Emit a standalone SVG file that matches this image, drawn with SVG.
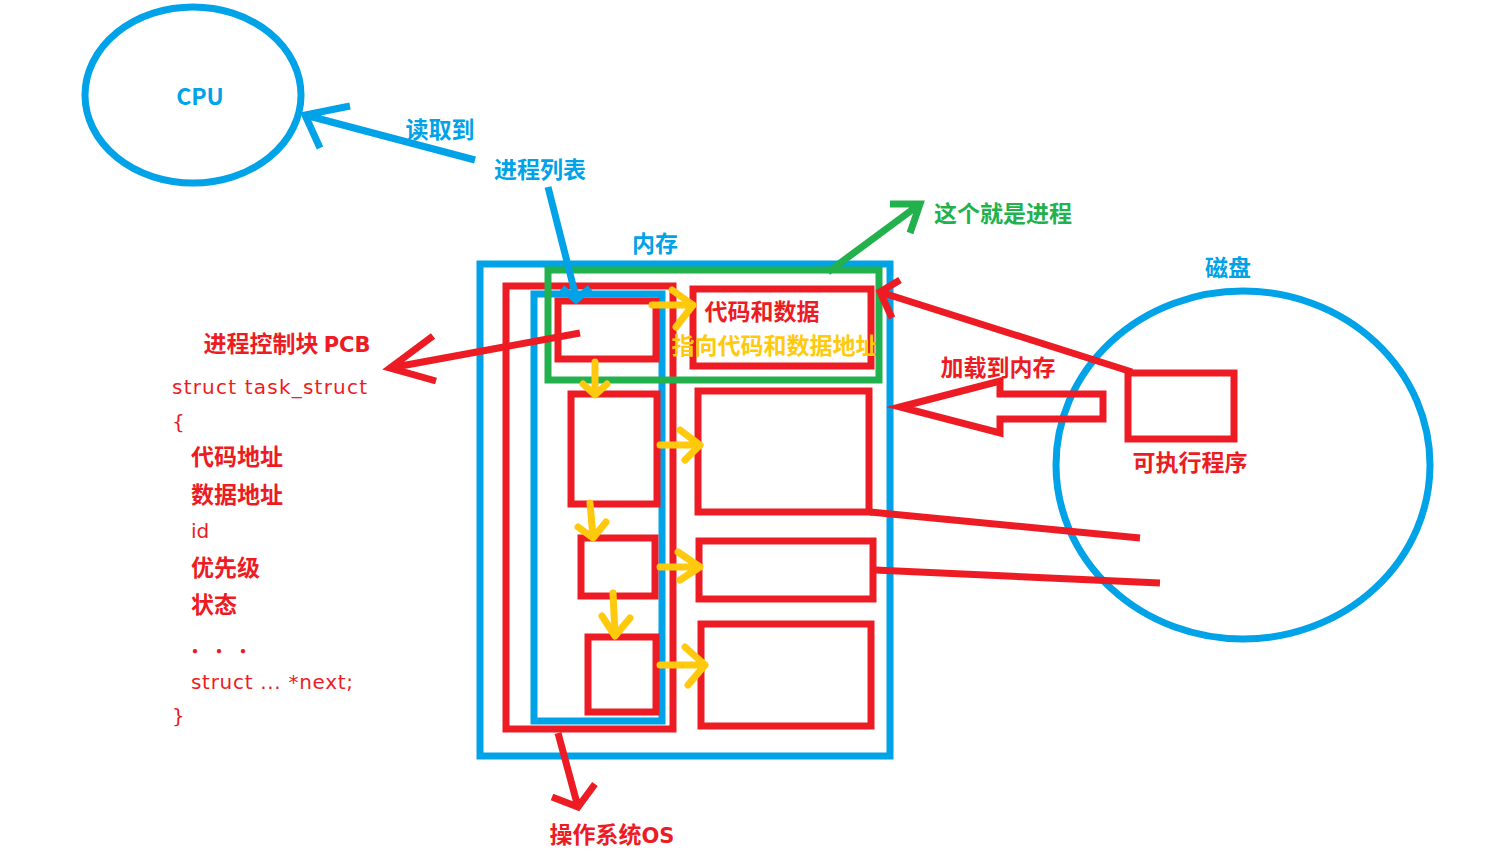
<svg xmlns="http://www.w3.org/2000/svg" width="1497" height="856" viewBox="0 0 1497 856">
<style>
.b{fill:none;stroke:#00A2E8;stroke-width:7}
.r{fill:none;stroke:#ED1C24;stroke-width:7}
.g{fill:none;stroke:#22B14C;stroke-width:7}
.y{fill:none;stroke:#FFC90E;stroke-width:7;stroke-linecap:round;stroke-linejoin:round}
.t{font-family:"Noto Sans CJK SC","Liberation Sans",sans-serif;font-size:23px;font-weight:bold}
.c{font-family:"DejaVu Sans","Noto Sans CJK SC",sans-serif;font-size:20px}
.tb{fill:#00A2E8}.tr{fill:#ED1C24}.tg{fill:#22B14C}.ty{fill:#FFC90E}
</style>
<rect width="1497" height="856" fill="#fff"/>
<g id="cpu"><ellipse class="b" cx="193" cy="95" rx="108" ry="88"/><text class="t tb" x="200" y="105" text-anchor="middle" font-family="DejaVu Sans" font-size="20">CPU</text></g>
<g id="memory"><rect class="b" x="480" y="264" width="410" height="492"/><text class="t tb" x="655" y="252" text-anchor="middle">内存</text></g>
<g id="os"><rect class="r" x="506" y="286" width="167" height="443"/><text class="t tr" x="612" y="843" text-anchor="middle">操作系统<tspan font-family="DejaVu Sans" font-size="21">OS</tspan></text></g>
<g id="proclist"><rect class="b" x="534" y="294" width="128" height="427"/></g>
<g id="pcb1"><rect class="r" x="558" y="301" width="98" height="58"/></g>
<g id="pcb2"><rect class="r" x="571" y="394" width="86" height="110"/></g>
<g id="pcb3"><rect class="r" x="581" y="538" width="74" height="58"/></g>
<g id="pcb4"><rect class="r" x="588" y="637" width="68" height="75"/></g>
<g id="data1"><rect class="r" x="693" y="289" width="178" height="77"/><text class="t tr" x="762" y="320" text-anchor="middle">代码和数据</text><text class="t ty" x="775" y="354" text-anchor="middle">指向代码和数据地址</text></g>
<g id="data2"><rect class="r" x="698" y="391" width="171" height="121"/></g>
<g id="data3"><rect class="r" x="699" y="541" width="174" height="58"/></g>
<g id="data4"><rect class="r" x="701" y="624" width="170" height="102"/></g>
<g id="process"><rect class="g" x="548" y="270" width="331" height="110"/><text class="t tg" x="1003" y="222" text-anchor="middle">这个就是进程</text></g>
<g id="disk"><ellipse class="b" cx="1243" cy="465" rx="187" ry="174"/><text class="t tb" x="1228" y="276" text-anchor="middle">磁盘</text></g>
<g id="exe"><rect class="r" x="1128" y="373" width="106" height="66"/><text class="t tr" x="1190" y="471" text-anchor="middle">可执行程序</text></g>
<g id="pcbtext">
<text class="t tr" x="287" y="352" text-anchor="middle">进程控制块 <tspan font-family="DejaVu Sans" font-size="21">PCB</tspan></text>
<text class="c tr" x="172" y="394" textLength="195">struct task_struct</text>
<text class="c tr" x="172" y="429">{</text>
<text class="t tr" x="191" y="465">代码地址</text>
<text class="t tr" x="191" y="503">数据地址</text>
<text class="c tr" x="191" y="538">id</text>
<text class="t tr" x="191" y="576">优先级</text>
<text class="t tr" x="191" y="613">状态</text>
<text class="c tr" x="185" y="659" font-family="Noto Sans CJK SC" letter-spacing="4">・・・</text>
<text class="c tr" x="191" y="689" textLength="162">struct ... *next;</text>
<text class="c tr" x="172" y="723">}</text>
</g>
<g id="labels">
<text class="t tb" x="440" y="138" text-anchor="middle">读取到</text>
<text class="t tb" x="540" y="178" text-anchor="middle">进程列表</text>
<text class="t tr" x="998" y="376" text-anchor="middle">加载到内存</text>
</g>
<g id="connectors">
<path class="b" d="M475 160 L305 115 M350 106 L305 115 L320 148" stroke-width="6"/>
<path class="b" d="M548 187 L576 297 M562 288 L576 300 L590 288" stroke-width="6"/>
<path class="g" d="M828 272 L920 204 M890 204 L920 204 L910 233"/>
<path class="r" d="M580 333 L390 368 M433 336 L390 368 L436 381"/>
<path class="r" d="M558 733 L578 807 M552 797 L578 807 L595 784"/>
<path class="r" d="M1132 372 L880 292 M900 280 L880 292 L892 318"/>
<polygon class="r" points="900,407 1000,381 1000,394 1103,394 1103,419 1000,419 1000,433"/>
<path class="r" d="M870 512 L1140 538"/>
<path class="r" d="M875 570 L1160 583"/>
<path class="y" d="M652 305 L693 305 M672 290 L693 305 L676 327"/>
<path class="y" d="M595 362 L595 393 M583 384 L595 395 L607 384"/>
<path class="y" d="M660 445 L700 445 M680 430 L700 445 L685 460"/>
<path class="y" d="M590 503 L593 537 M578 527 L593 538 L606 522"/>
<path class="y" d="M660 567 L700 567 M678 552 L700 567 L680 580"/>
<path class="y" d="M613 593 L615 634 M602 616 L615 636 L630 618"/>
<path class="y" d="M660 665 L705 665 M685 647 L705 665 L688 685"/>
</g>
</svg>
